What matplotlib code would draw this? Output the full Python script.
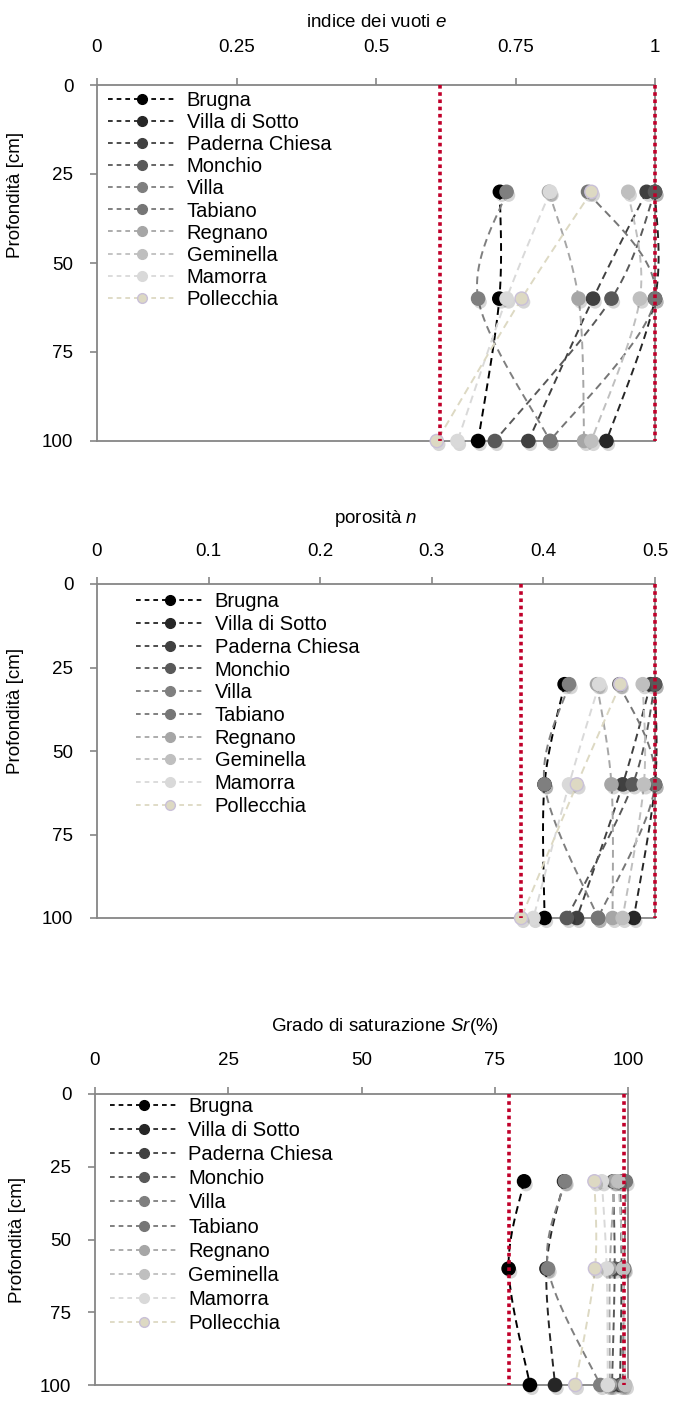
import numpy as np
import matplotlib
matplotlib.use("Agg")
import matplotlib.pyplot as plt
import matplotlib.patheffects as pe
from matplotlib.lines import Line2D

plt.rcParams['font.family'] = ['Liberation Sans', 'DejaVu Sans']
plt.rcParams['mathtext.fontset'] = 'custom'
plt.rcParams['mathtext.rm'] = 'Liberation Sans'
plt.rcParams['mathtext.it'] = 'Liberation Sans:italic'

# ---- data -------------------------------------------------------------
depths = [30, 60, 100]
sites = ["Brugna", "Villa di Sotto", "Paderna Chiesa", "Monchio", "Villa",
         "Tabiano", "Regnano", "Geminella", "Mamorra", "Pollecchia"]
site_colors = ["#000000", "#262626", "#404040", "#595959", "#7f7f7f",
               "#767676", "#a6a6a6", "#bfbfbf", "#d9d9d9", "#ddd9c3"]

# void ratio e, one row per site (30, 60, 100 cm)
void_ratio = [
    [0.722, 0.721, 0.683],
    [1.000, 1.000, 0.913],
    [0.985, 0.889, 0.773],
    [1.000, 0.922, 0.713],
    [0.734, 0.683, 0.812],
    [0.880, 1.000, 0.812],
    [0.810, 0.863, 0.873],
    [0.952, 0.973, 0.886],
    [0.812, 0.734, 0.646],
    [0.886, 0.761, 0.609],
]
# porosity n
porosity = [
    [0.419, 0.401, 0.401],
    [0.500, 0.500, 0.481],
    [0.496, 0.471, 0.430],
    [0.500, 0.480, 0.421],
    [0.423, 0.401, 0.449],
    [0.468, 0.500, 0.449],
    [0.448, 0.461, 0.462],
    [0.489, 0.490, 0.471],
    [0.450, 0.423, 0.391],
    [0.469, 0.430, 0.380],
]
# degree of saturation Sr (%)
saturation = [
    [80.5, 77.6, 81.6],
    [88.0, 84.7, 86.3],
    [98.5, 98.8, 98.5],
    [97.2, 97.5, 97.0],
    [88.2, 85.0, 94.8],
    [99.6, 99.3, 99.0],
    [97.5, 96.6, 96.6],
    [98.2, 99.1, 99.5],
    [95.1, 96.0, 96.2],
    [93.7, 93.8, 90.1],
]

e_ticks = [0, 0.25, 0.5, 0.75, 1]
e_ticklabels = ["0", "0.25", "0.5", "0.75", "1"]
n_ticks = [0, 0.1, 0.2, 0.3, 0.4, 0.5]
n_ticklabels = ["0", "0.1", "0.2", "0.3", "0.4", "0.5"]
sr_ticks = [0, 25, 50, 75, 100]
sr_ticklabels = ["0", "25", "50", "75", "100"]
depth_ticks = [0, 25, 50, 75, 100]

e_limits = [0.615, 1.0]
n_limits = [0.38, 0.5]
sr_limits = [77.6, 99.2]


def smooth(xs, ys, n=40):
    """Bezier smoothing through the points (Catmull-Rom style control points)."""
    P = np.column_stack([xs, ys]).astype(float)
    out = []
    for i in range(len(P) - 1):
        p0 = P[i - 1] if i > 0 else P[i]
        p1, p2 = P[i], P[i + 1]
        p3 = P[i + 2] if i + 2 < len(P) else P[i + 1]
        b1 = p1 + (p2 - p0) / 6.0
        b2 = p2 - (p3 - p1) / 6.0
        t = np.linspace(0, 1, n)[:, None]
        seg = ((1 - t) ** 3) * p1 + 3 * ((1 - t) ** 2) * t * b1 \
            + 3 * (1 - t) * t ** 2 * b2 + t ** 3 * p2
        out.append(seg if i == 0 else seg[1:])
    S = np.vstack(out)
    return S[:, 0], S[:, 1]


W, H = 674, 1423
fig = plt.figure(figsize=(W / 100, H / 100), dpi=100)

AX_GRAY = "#868686"
RED = "#c0002a"
DASH = (0, (4.0, 2.6))
FS = 13.5
LEG_FS = 14.5


def panel(rect_px, values, xlim, ticks, ticklabels, title, limits, leg_anchor,
          leg_spacing, tick_pad, title_x, ylabel_y):
    l, t, r, b = rect_px
    ax = fig.add_axes([l / W, 1 - b / H, (r - l) / W, (b - t) / H])
    ax.set_xlim(*xlim)
    ax.set_ylim(100, 0)
    for k, (name, col) in enumerate(zip(sites, site_colors)):
        vals = values[k]
        sx, sy = smooth(vals, depths)
        ax.plot(sx, sy, color=col, lw=1.4, ls=DASH, zorder=3 + k * 0.1, clip_on=False)
        edge = "#c9c0d8" if name == "Pollecchia" else col
        ax.plot(vals, depths, ls="none", marker="o", ms=9.5, mfc=col, mec=edge,
                mew=1.0, zorder=3.05 + k * 0.1, clip_on=False,
                path_effects=[pe.SimplePatchShadow(offset=(1.5, -2.5),
                                                   shadow_rgbFace="#000000",
                                                   alpha=0.16),
                              pe.Normal()])
    for v in limits:
        ax.plot([v, v], [0, 100], color=RED, lw=2.6, ls=(0, (1, 1)), zorder=6,
                clip_on=False, solid_capstyle="butt")

    for s in ax.spines.values():
        s.set_color(AX_GRAY)
        s.set_linewidth(1.3)
    ax.xaxis.set_ticks_position("top")
    ax.xaxis.set_label_position("top")
    ax.set_xticks(ticks)
    ax.set_xticklabels(ticklabels)
    ax.set_yticks(depth_ticks)
    ax.set_yticklabels([str(d) for d in depth_ticks])
    ax.tick_params(axis="x", direction="out", length=5, width=1.2, color=AX_GRAY,
                   pad=tick_pad, labelsize=FS)
    ax.tick_params(axis="y", direction="out", length=5, width=1.2, color=AX_GRAY,
                   pad=12, labelsize=FS)
    ax.set_xlabel(title, fontsize=FS)
    ax.xaxis.label.set_va("bottom")
    ax.set_ylabel("Profondità [cm]", fontsize=FS)
    ax.yaxis.set_label_coords(-0.13, ylabel_y)
    ax._title_x = title_x

    handles = []
    for name, col in zip(sites, site_colors):
        edge = "#c9c0d8" if name == "Pollecchia" else col
        handles.append(Line2D([], [], color=col, lw=1.3, ls=(0, (2.6, 2.2)),
                              marker="o", ms=7, mfc=col, mec=edge))
    ax.legend(handles, sites, loc="upper left", bbox_to_anchor=leg_anchor,
              frameon=False, fontsize=LEG_FS, handlelength=3.4, handletextpad=0.5,
              labelspacing=leg_spacing, borderaxespad=0, borderpad=0)
    return ax


def place_title(ax, ypx):
    # put the axis title at a fixed pixel height above the panel
    l, b, w, h = ax.get_position().bounds
    top_px = (1 - (b + h)) * H
    ax.xaxis.set_label_coords(ax._title_x, 1 + (top_px - ypx) / (h * H))


ax1 = panel((97, 85, 655, 441), void_ratio, (0, 1), e_ticks, e_ticklabels,
            "indice dei vuoti $e$", e_limits, (0.02, 0.982), 0.15, 16, 0.5, 0.69)
ax2 = panel((97, 584, 655, 918), porosity, (0, 0.5), n_ticks, n_ticklabels,
            "porosità $n$", n_limits, (0.07, 0.975), 0.185, 12, 0.5, 0.62)
ax3 = panel((95, 1094, 628, 1385), saturation, (0, 100), sr_ticks, sr_ticklabels,
            "Grado di saturazione $Sr(\\%)$", sr_limits, (0.028, 0.99), 0.255, 13,
            0.545, 0.5)

place_title(ax1, 31)
place_title(ax2, 529)
place_title(ax3, 1037)

fig.savefig("out.png", dpi=100, facecolor="white")
